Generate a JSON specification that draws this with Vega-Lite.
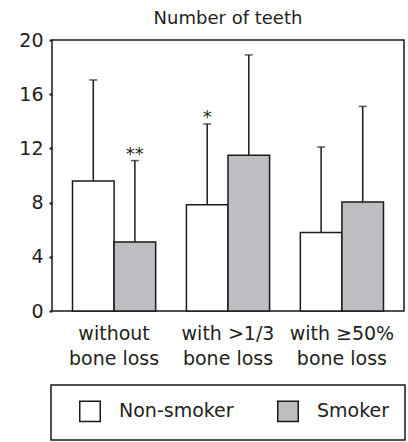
{
  "$schema": "https://vega.github.io/schema/vega-lite/v6.json",
  "autosize": "none",
  "padding": {"left": 52, "top": 40, "right": 4, "bottom": 131},
  "width": 352,
  "height": 271,
  "title": {
    "text": "Number of teeth",
    "font": "DejaVu Sans",
    "fontSize": 18,
    "fontWeight": "normal",
    "color": "#231f20",
    "anchor": "middle",
    "offset": 3
  },
  "data": {
    "values": [
      {"group": "without|bone loss", "smoker": "Non-smoker", "mean": 9.6, "upper": 17.05, "sig": ""},
      {"group": "without|bone loss", "smoker": "Smoker", "mean": 5.1, "upper": 11.1, "sig": "**"},
      {"group": "with >1/3|bone loss", "smoker": "Non-smoker", "mean": 7.85, "upper": 13.8, "sig": "*"},
      {"group": "with >1/3|bone loss", "smoker": "Smoker", "mean": 11.5, "upper": 18.9, "sig": ""},
      {"group": "with ≥50%|bone loss", "smoker": "Non-smoker", "mean": 5.8, "upper": 12.1, "sig": ""},
      {"group": "with ≥50%|bone loss", "smoker": "Smoker", "mean": 8.05, "upper": 15.1, "sig": ""}
    ]
  },
  "encoding": {
    "x": {
      "field": "group",
      "type": "nominal",
      "sort": null,
      "scale": {"paddingInner": 0.27, "paddingOuter": 0.18},
      "axis": {
        "title": null,
        "labelAngle": 0,
        "labelExpr": "split(datum.label, '|')",
        "labelFont": "DejaVu Sans",
        "labelFontSize": 19,
        "labelColor": "#231f20",
        "labelLineHeight": 25,
        "labelBaseline": "top",
        "labelPadding": 13,
        "ticks": false,
        "tickSize": 0,
        "domain": false
      }
    },
    "xOffset": {
      "field": "smoker",
      "type": "nominal",
      "scale": {"domain": ["Non-smoker", "Smoker"], "paddingInner": 0, "paddingOuter": 0}
    }
  },
  "layer": [
    {
      "mark": {"type": "rule", "color": "#1a1a1a", "strokeWidth": 1.5},
      "encoding": {
        "y": {"field": "mean", "type": "quantitative"},
        "y2": {"field": "upper"}
      }
    },
    {
      "mark": {"type": "tick", "color": "#1a1a1a", "size": 8, "thickness": 1.5, "orient": "horizontal"},
      "encoding": {
        "y": {"field": "upper", "type": "quantitative"}
      }
    },
    {
      "mark": {"type": "bar", "stroke": "#1a1a1a", "strokeWidth": 1.5, "opacity": 1},
      "encoding": {
        "y": {
          "field": "mean",
          "type": "quantitative",
          "scale": {"domain": [0, 20], "nice": false},
          "axis": {
            "title": null,
            "values": [0, 4, 8, 12, 16, 20],
            "grid": false,
            "domain": false,
            "ticks": true,
            "tickSize": 3,
            "tickWidth": 2,
            "tickColor": "#1a1a1a",
            "labelPadding": 6,
            "labelFont": "DejaVu Sans",
            "labelFontSize": 19,
            "labelColor": "#231f20"
          }
        },
        "color": {
          "field": "smoker",
          "type": "nominal",
          "scale": {"domain": ["Non-smoker", "Smoker"], "range": ["#ffffff", "#bdbec1"]},
          "legend": {
            "title": null,
            "orient": "none",
            "legendX": -1,
            "legendY": 345,
            "direction": "horizontal",
            "symbolType": "square",
            "symbolSize": 420,
            "symbolStrokeColor": "#1a1a1a",
            "symbolStrokeWidth": 1.5,
            "symbolOpacity": 1,
            "symbolOffset": 13,
            "labelOffset": 18,
            "labelFont": "DejaVu Sans",
            "labelFontSize": 19,
            "labelColor": "#231f20",
            "columnPadding": 30,
            "padding": 15,
            "strokeColor": "#1a1a1a"
          }
        }
      }
    },
    {
      "mark": {"type": "text", "font": "DejaVu Sans", "fontSize": 18, "baseline": "bottom", "dy": 3, "color": "#231f20"},
      "encoding": {
        "y": {"field": "upper", "type": "quantitative"},
        "text": {"field": "sig"}
      }
    }
  ],
  "config": {
    "view": {"stroke": "#1a1a1a", "strokeWidth": 1.5},
    "legend": {"strokeWidth": 1.5}
  }
}
